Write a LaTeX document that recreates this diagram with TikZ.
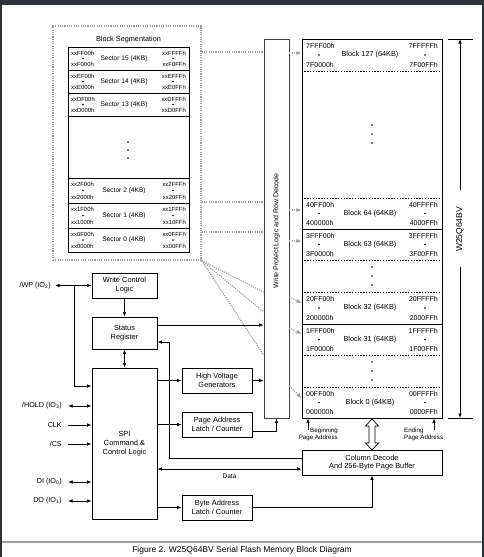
\documentclass[tikz,border=0pt]{standalone}
\usepackage{fontspec}
\setmainfont{Liberation Sans}
\usetikzlibrary{arrows.meta, positioning}

\definecolor{viewer}{HTML}{2E3238}
\definecolor{rulegray}{HTML}{A0A0A0}

\tikzset{
  box/.style={draw, line width=0.9pt, align=center, inner sep=0pt,
    font=\fontsize{7.4}{9}\selectfont},
  arr/.style={line width=0.8pt, -{Latex[length=4.5pt, width=3.6pt]}},
  darr/.style={line width=0.8pt, {Latex[length=4.5pt, width=3.6pt]}-{Latex[length=4.5pt, width=3.6pt]}},
  map/.style={gray!75, line width=1.2pt, dash pattern=on 1.1pt off 1.2pt},
  maparr/.style={map, -{Latex[length=5pt, width=4.5pt]}},
  hexbig/.style={inner sep=0pt, font=\fontsize{7}{8}\selectfont},
  hexsmall/.style={inner sep=0pt, font=\fontsize{5.9}{7}\selectfont},
  pinlbl/.style={anchor=east, inner sep=0pt, font=\fontsize{7.2}{8}\selectfont},
  dotmark/.style={fill, circle, inner sep=0pt, minimum size=1.8pt},
}

\begin{document}
\begin{tikzpicture}[x=1pt, y=-1pt]
  % Viewer frame
  \fill[viewer] (0,0) rectangle (484,557);
  \fill[white] (2,5) rectangle (482,557);
  \useasboundingbox (0,0) rectangle (484,557);

  % Block segmentation
  \node[map, draw, minimum width=148pt, minimum height=234pt, inner sep=0pt] (seg) at (127,143) {};
  \node[font=\fontsize{7.3}{8}\selectfont] (segtitle) at (128.5,39.5) {Block Segmentation};
  \draw[line width=1pt] (68,47) rectangle (189,252);
  \foreach \yy in {70,93,116,178,203,228}
    \draw[line width=0.7pt] (68,\yy) -- (189,\yy);
  \foreach \s/\pre/\ya/\yb in {15/F/47/70, 14/E/70/93, 13/D/93/116, 2/2/178/203, 1/1/203/228, 0/0/228/252} {
    \node[hexsmall, anchor=west] at (71,\ya+6) {xx\pre F00h};
    \node[hexsmall, anchor=west] at (71,\yb-5.5) {xx\pre 000h};
    \node[hexsmall, anchor=east] at (186,\ya+6) {xx\pre FFFh};
    \node[hexsmall, anchor=east] at (186,\yb-5.5) {xx\pre 0FFh};
    \node[dotmark] at (83,{(\ya+\yb)/2}) {};
    \node[dotmark] at (173,{(\ya+\yb)/2}) {};
    \node[font=\fontsize{6.6}{8}\selectfont] at (124,{(\ya+\yb)/2}) {Sector \s\ (4KB)};
  }
  \foreach \yy in {142,150,158} \node[dotmark] at (128,\yy) {};

  % Row decode and memory array
  \node[draw=black!75, line width=0.7pt, minimum width=25pt, minimum height=379pt, inner sep=0pt] (wp) at (276.5,228.5) {};
  \node[rotate=90, font=\fontsize{7}{8}\selectfont] at (276.5,231) {Write Protect Logic and Row Decode};
  \node[draw, line width=1pt, minimum width=140pt, minimum height=379pt, inner sep=0pt] (mem) at (372,228.5) {};
  \foreach \yy in {71,198,260,292,355,387}
    \draw[line width=0.6pt, dash pattern=on 1.4pt off 1.4pt] (mem.west |- 0,\yy) -- (mem.east |- 0,\yy);
  \foreach \yy in {229,324}
    \draw[line width=0.8pt] (mem.west |- 0,\yy) -- (mem.east |- 0,\yy);
  \foreach \n/\pre/\ya/\yb in {127/7F/39/71, 64/40/198/229, 63/3F/229/260, 32/20/292/324, 31/1F/324/355, 0/00/387/418} {
    \node[hexbig, anchor=west] at (306,\ya+7) {\pre FF00h};
    \node[hexbig, anchor=west] at (306,\yb-6.5) {\pre 0000h};
    \node[hexbig, anchor=east] at (438,\ya+7) {\pre FFFFh};
    \node[hexbig, anchor=east] at (438,\yb-6.5) {\pre 00FFh};
    \node[dotmark] at (319,{(\ya+\yb)/2}) {};
    \node[dotmark] at (425,{(\ya+\yb)/2}) {};
    \node[font=\fontsize{7.3}{8}\selectfont] at (370,{(\ya+\yb)/2}) {Block \n\ (64KB)};
  }
  \foreach \yy in {125,134,143,267,276,285,362,371,380} \node[dotmark] at (372,\yy) {};

  % Segmentation to row decode
  \draw[map] (seg.east |- 0,52) -- (wp.west |- 0,52);
  \draw[map] (seg.east |- 0,202) -- (wp.west |- 0,202);
  \draw[map] (seg.east |- 0,232) -- (wp.west |- 0,232);
  \draw[map] (seg.south east) -- (wp.west |- 0,292);
  \draw[map] (seg.south east) -- (wp.west |- 0,312);
  \draw[map] (seg.south east) -- (wp.west |- 0,355);
  \draw[maparr] (wp.east |- 0,53) -- (mem.west |- 0,53);
  \draw[maparr] (wp.east |- 0,210) -- (mem.west |- 0,210);
  \draw[maparr] (wp.east |- 0,241) -- (mem.west |- 0,241);
  \draw[maparr] (wp.east |- 0,297) -- (mem.west |- 0,303);
  \draw[maparr] (wp.east |- 0,328) -- (mem.west |- 0,334);
  \draw[maparr] (wp.east |- 0,386) -- (mem.west |- 0,398);

  % Device size
  \coordinate (chiptop) at (460,39);
  \coordinate (chipbot) at (460,418);
  \draw[line width=0.8pt] (448,39) -- (473,39);
  \draw[line width=0.8pt] (448,418) -- (473,418);
  \node[rotate=90, font=\fontsize{8.5}{9}\selectfont] (chip) at (460,229.5) {W25Q64BV};
  \draw[arr] (460,190) -- (chiptop);
  \draw[arr] (460,267) -- (chipbot);

  % Logic blocks
  \node[box, minimum width=65pt, minimum height=25pt] (wcl) at (124.5,285.5) {Write Control\\Logic};
  \node[box, minimum width=65pt, minimum height=32pt] (sr) at (124.5,333) {Status\\Register};
  \node[box, minimum width=65pt, minimum height=151pt] (spi) at (124.5,443.5) {SPI\\Command \&\\Control Logic};
  \node[box, minimum width=70pt, minimum height=25pt] (hvg) at (217,380.5) {High Voltage\\Generators};
  \node[box, minimum width=70pt, minimum height=25pt] (pal) at (217,424.5) {Page Address\\Latch / Counter};
  \node[box, minimum width=70pt, minimum height=25pt] (bal) at (217,507.5) {Byte Address\\Latch / Counter};
  \node[box, minimum width=140pt, minimum height=25pt, font=\fontsize{7.4}{8.5}\selectfont] (cd) at (372,462.5) {Column Decode\\And 256-Byte Page Buffer};

  % Pins
  \node[pinlbl] (pwp) at (51,285.5) {/WP (IO\textsubscript{2})};
  \node[pinlbl] (phold) at (62,406) {/HOLD (IO\textsubscript{3})};
  \node[pinlbl] (pclk) at (62,425) {CLK};
  \node[pinlbl] (pcs) at (62,444) {/CS};
  \node[pinlbl] (pdi) at (62,482) {DI (IO\textsubscript{0})};
  \node[pinlbl] (pdo) at (62,501) {DO (IO\textsubscript{1})};
  \coordinate (wpjoin) at (74,285.5);
  \draw[darr] ([xshift=4pt]pwp.east) -- (wcl.west);
  \draw[arr] (wpjoin) |- (spi.west |- 0,386);
  \draw[darr] ([xshift=6pt]phold.east) -- (spi.west |- phold.east);
  \draw[arr] ([xshift=6pt]pclk.east) -- (spi.west |- pclk.east);
  \draw[arr] ([xshift=6pt]pcs.east) -- (spi.west |- pcs.east);
  \draw[darr] ([xshift=6pt]pdi.east) -- (spi.west |- pdi.east);
  \draw[darr] ([xshift=6pt]pdo.east) -- (spi.west |- pdo.east);

  % Wiring
  \coordinate (srbus) at (169,342);
  \draw[arr] (wcl) -- (sr);
  \draw[darr] (sr) -- (spi);
  \draw[arr] (sr.east |- 0,325) -- (wp.west |- 0,325);
  \draw[arr] (cd.west |- 0,458) -| (srbus) -- (sr.east |- srbus);
  \draw[darr] (spi.east |- 0,469) -- node[below=1.5pt, font=\fontsize{6.5}{7}\selectfont] {Data} (cd.west |- 0,469);
  \draw[arr] (spi.east |- hvg.west) -- (hvg.west);
  \draw[arr] (hvg.east) -- (wp.west |- hvg.east);
  \draw[arr] (spi.east |- pal.west) -- (pal.west);
  \draw[arr] (pal.east |- 0,431) -| (wp.south);
  \draw[arr] (spi.east |- bal.west) -- (bal.west);
  \draw[arr] (bal.east) -| (cd.south);

  % Page buffer link
  \draw[line width=0.7pt, fill=white] (372,419) -- (378.5,426) -- (375,426) -- (375,443) -- (378.5,443) -- (372,450) -- (365.5,443) -- (369,443) -- (369,426) -- (365.5,426) -- cycle;
  \node[font=\fontsize{6.2}{7}\selectfont, align=right, anchor=north east, inner sep=0pt] (begin) at (338,428) {Beginning\\Page Address};
  \node[font=\fontsize{6.2}{7}\selectfont, align=left, anchor=north west, inner sep=0pt] (ending) at (404,428) {Ending\\Page Address};
  \draw[arr] (308,430) -- (mem.south -| 308,0);
  \draw[arr] (434,430) -- (mem.south -| 434,0);

  % Caption
  \draw[rulegray, line width=1.5pt] (2,542) -- (482,542);
  \node[font=\fontsize{8.5}{10}\selectfont] (caption) at (242,550) {Figure 2. W25Q64BV Serial Flash Memory Block Diagram};
\end{tikzpicture}
\end{document}
